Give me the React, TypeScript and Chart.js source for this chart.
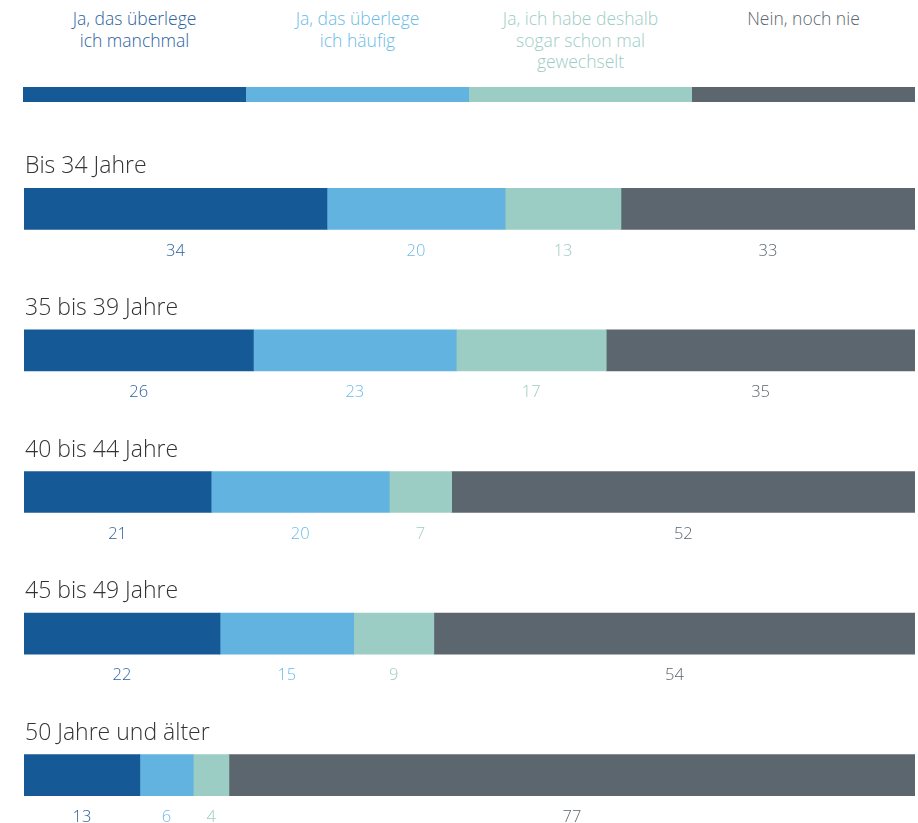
import React, { useEffect, useRef } from "react";
import { Chart, registerables } from "chart.js";

Chart.register(...registerables);

const groups = ["Bis 34 Jahre", "35 bis 39 Jahre", "40 bis 44 Jahre", "45 bis 49 Jahre", "50 Jahre und älter"];
const seriesNames = [
  ["Ja, das überlege", "ich manchmal"],
  ["Ja, das überlege", "ich häufig"],
  ["Ja, ich habe deshalb", "sogar schon mal", "gewechselt"],
  ["Nein, noch nie"],
];
const manchmal = [34, 26, 21, 22, 13];
const haeufig = [20, 23, 20, 15, 6];
const gewechselt = [13, 17, 7, 9, 4];
const nie = [33, 35, 52, 54, 77];
const colors = ["#155a96", "#62b3e0", "#9ccdc5", "#5c666f"];
const labelColors = ["#2b62a0", "#6bbbe6", "#9ccdc5", "#5c666f"];

const FONT = "'Open Sans', 'DejaVu Sans', sans-serif";

export default function App() {
  const ref = useRef<HTMLCanvasElement | null>(null);

  useEffect(() => {
    const series = [manchmal, haeufig, gewechselt, nie];
    const sums = groups.map((_, i) => series.reduce((s, a) => s + a[i], 0));
    const norm = series.map((a) => a.map((v, i) => (v / sums[i]) * 100));

    const labelPlugin = {
      id: "labels",
      afterDatasetsDraw(chart: any) {
        const ctx = chart.ctx;
        ctx.save();
        const meta0 = chart.getDatasetMeta(0);
        meta0.data.forEach((bar: any, i: number) => {
          ctx.font = `300 23px ${FONT}`;
          ctx.fillStyle = "#333333";
          ctx.textAlign = "left";
          ctx.textBaseline = "middle";
          ctx.fillText(groups[i], 25, bar.y - 42);
        });
        series.forEach((arr, d) => {
          const meta = chart.getDatasetMeta(d);
          meta.data.forEach((bar: any, i: number) => {
            ctx.font = `300 16.5px ${FONT}`;
            ctx.fillStyle = labelColors[d];
            ctx.textAlign = "center";
            ctx.textBaseline = "middle";
            ctx.fillText(String(arr[i]), (bar.x + bar.base) / 2, bar.y + 42);
          });
        });
        ctx.restore();
      },
    };

    const chart = new Chart(ref.current as HTMLCanvasElement, {
      type: "bar",
      data: {
        labels: groups,
        datasets: norm.map((d, k) => ({
          label: seriesNames[k].join(" "),
          data: d,
          backgroundColor: colors[k],
          borderWidth: 0,
          barThickness: 41,
        })),
      },
      options: {
        indexAxis: "y",
        animation: false,
        responsive: true,
        maintainAspectRatio: false,
        layout: { padding: { left: 24, right: 3, top: 0, bottom: 0 } },
        plugins: { legend: { display: false }, tooltip: { enabled: false } },
        scales: {
          x: { stacked: true, min: 0, max: 100, display: false },
          y: { stacked: true, display: false },
        },
      },
      plugins: [labelPlugin],
    });
    return () => chart.destroy();
  }, []);

  return (
    <div
      style={{
        position: "fixed",
        left: 0,
        top: 0,
        width: 918,
        height: 823,
        overflow: "hidden",
        background: "#fff",
        fontFamily: FONT,
      }}
    >
      <div style={{ position: "absolute", left: 23, top: 8, width: 892, display: "flex" }}>
        {seriesNames.map((lines, k) => (
          <div
            key={k}
            style={{
              flex: "1 1 0",
              textAlign: "center",
              color: labelColors[k],
              fontSize: 17.5,
              fontWeight: 300,
              lineHeight: "21.5px",
            }}
          >
            {lines.map((l, j) => (
              <div key={j}>{l}</div>
            ))}
          </div>
        ))}
      </div>
      <div style={{ position: "absolute", left: 23, top: 87, width: 892, height: 15, display: "flex" }}>
        {colors.map((c, k) => (
          <div key={k} style={{ flex: "1 1 0", background: c }} />
        ))}
      </div>
      <div style={{ position: "absolute", left: 0, top: 138, width: 918, height: 708 }}>
        <canvas ref={ref} />
      </div>
    </div>
  );
}
